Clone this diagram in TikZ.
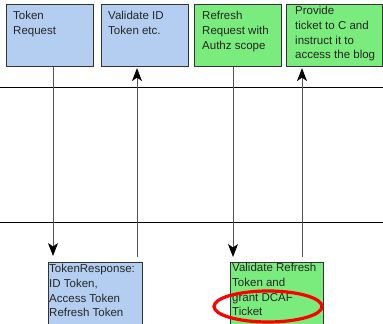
\documentclass[tikz,border=0pt]{standalone}
\usepackage{fontspec}
\setmainfont{Liberation Sans}
\usetikzlibrary{arrows.meta,calc,shapes.geometric}
\definecolor{boxblue}{HTML}{B3CEF1}
\definecolor{boxgreen}{HTML}{7AEB7D}
\definecolor{edge}{HTML}{333333}
\definecolor{vline}{HTML}{555555}
\begin{document}
\begin{tikzpicture}[x=1pt,y=-1pt,
  box/.style={draw=edge,line width=1.1pt,rectangle,inner sep=0pt,anchor=north west},
  bluebox/.style={box,fill=boxblue},
  greenbox/.style={box,fill=boxgreen},
  txt/.style={anchor=north west,inner sep=0pt,align=left,font=\fontsize{11.5}{14.8}\selectfont,text=black!85},
  conn/.style={draw=vline,line width=0.9pt},
  arr/.style={conn,-{Stealth[length=13pt,width=10pt,inset=3.5pt,black]}}]
\clip (0,0) rectangle (383,324);
\fill[white] (0,0) rectangle (383,324);
% horizontal lines
\coordinate (h1a) at (0,87); \coordinate (h1b) at (383,87);
\coordinate (h2a) at (0,222); \coordinate (h2b) at (383,222);
\draw[line width=0.9pt] (h1a) -- (h1b);
\draw[line width=0.9pt] (h2a) -- (h2b);
% top boxes
\node[bluebox,minimum width=87pt,minimum height=62pt] (tr) at (6,4) {};
\node[bluebox,minimum width=87pt,minimum height=62pt] (vid) at (101,4) {};
\node[greenbox,minimum width=87pt,minimum height=62pt] (rr) at (194,4) {};
\node[greenbox,minimum width=96pt,minimum height=62pt] (pt) at (286,4) {};
% bottom boxes
\node[bluebox,minimum width=94pt,minimum height=80pt] (resp) at (48,262) {};
\node[greenbox,minimum width=93pt,minimum height=80pt] (vr) at (230,262) {};
% texts
\node[txt] (trt) at (13,11) {Token\\Request};
\node[txt] (vidt) at (108,11) {Validate ID\\Token etc.};
\node[txt] (rrt) at (202,11) {Refresh\\Request with\\Authz scope};
\node[txt] (ptt) at (295,6) {Provide\\ticket to C and\\instruct it to\\access the blog};
\node[txt] (respt) at (49,264) {TokenResponse:\\ID Token,\\Access Token\\Refresh Token};
\node[txt] (vrt) at (232,263) {Validate Refresh\\Token and\\grant DCAF\\Ticket};
% connectors
\coordinate (x1) at (53,0);
\coordinate (x3) at (233,0);
\coordinate (c2) at (137,257);
\coordinate (c4) at (302,257);
\draw[arr] (tr.south -| x1) -- ([yshift=6pt]resp.north -| x1);
\draw[arr] (c2) -- ([yshift=-1pt]vid.south -| c2);
\draw[arr] (rr.south -| x3) -- ([yshift=5pt]vr.north -| x3);
\draw[arr] (c4) -- ([yshift=-1pt]pt.south -| c4);
% red ellipse
\node[draw=red,line width=3.2pt,ellipse,minimum width=108pt,minimum height=31pt,inner sep=0pt] (hl) at (268,306.5) {};
\end{tikzpicture}
\end{document}
